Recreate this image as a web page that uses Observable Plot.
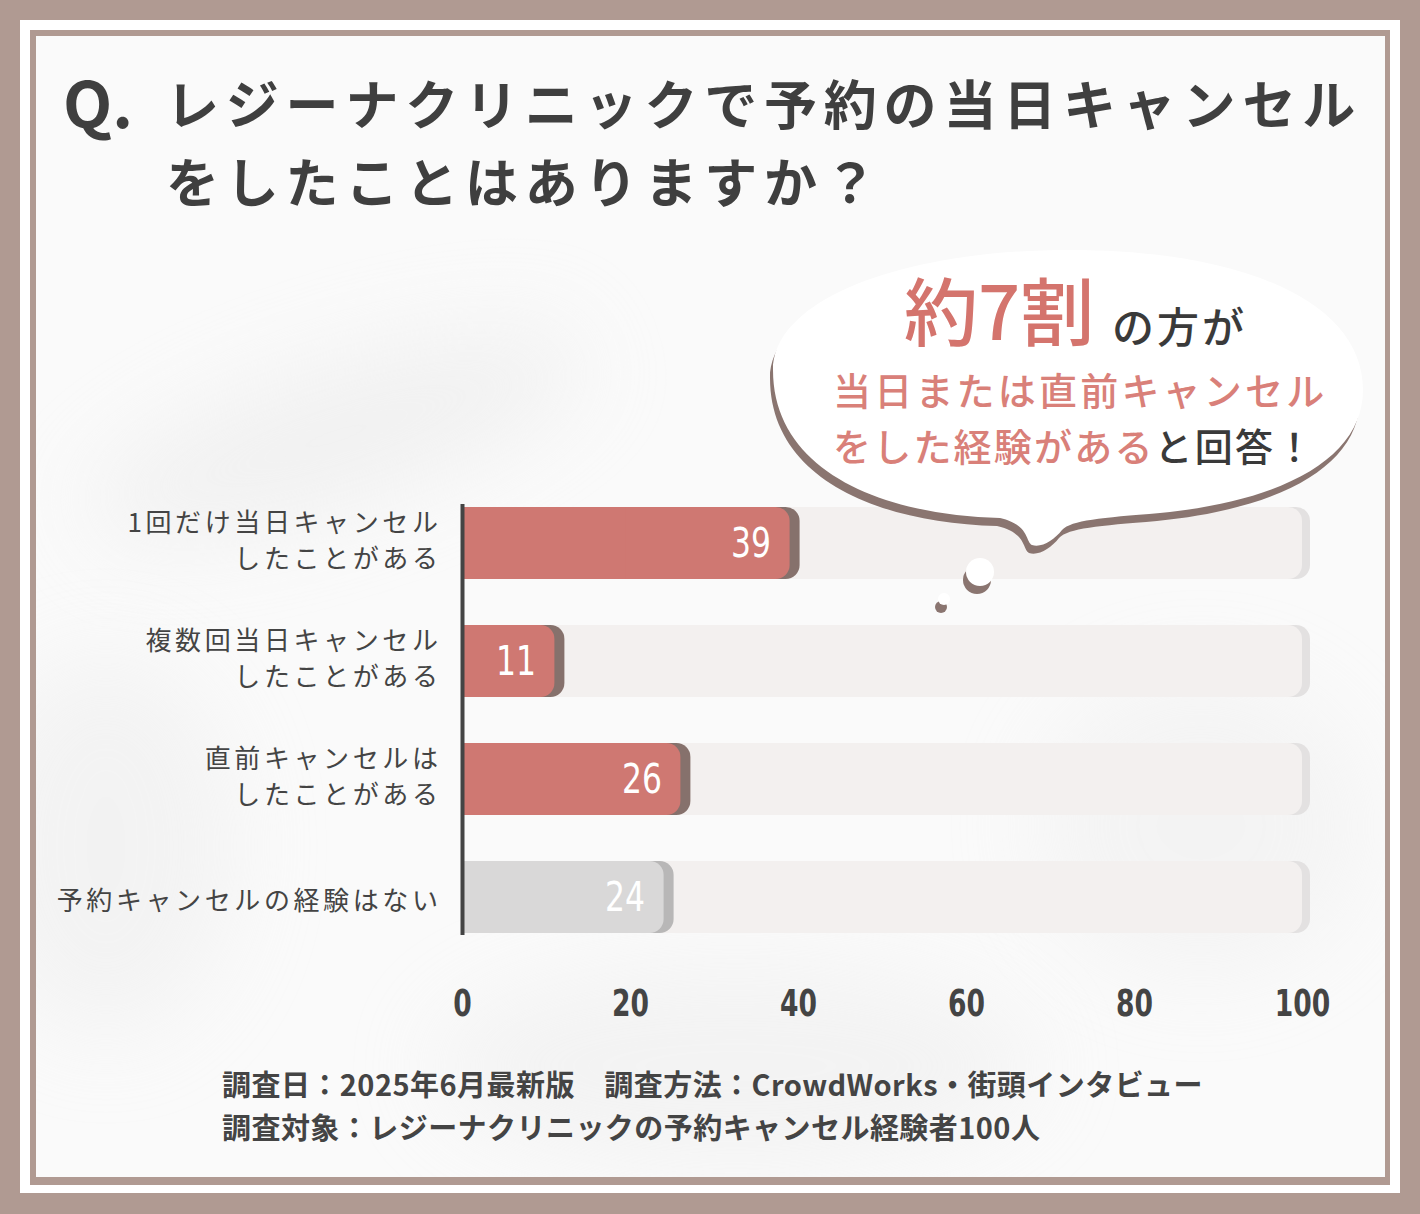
<!DOCTYPE html>
<html><head><meta charset="utf-8">
<script src="https://cdn.jsdelivr.net/npm/d3@7"></script>
<script src="https://cdn.jsdelivr.net/npm/@observablehq/plot@0.6"></script>
<style>
html,body{margin:0;padding:0;}
body{width:1420px;height:1214px;background:#b09a92;position:relative;overflow:hidden;font-family:"Noto Sans CJK JP","Noto Sans",sans-serif;}
#white{position:absolute;left:20px;top:20px;width:1380px;height:1173px;background:#fff;}
#line{position:absolute;left:30px;top:30px;width:1360px;height:1155px;background:#b09a92;}
#panel{position:absolute;left:36px;top:36px;width:1349px;height:1141px;background:#fafafa;overflow:hidden;}
.smudge{position:absolute;background:#e6e6e6;filter:blur(45px);opacity:.45;border-radius:50%;}
.abs{position:absolute;white-space:nowrap;line-height:1;}
#chart{position:absolute;left:0;top:0;}
#bubble{position:absolute;left:0;top:0;}
</style>
</head>
<body>
<div id="white"></div>
<div id="line"></div>
<div id="panel">
  <div class="smudge" style="left:40px;top:330px;width:520px;height:140px;transform:rotate(-18deg);"></div>
  <div class="smudge" style="left:-60px;top:620px;width:260px;height:380px;opacity:.35"></div>
  <div class="smudge" style="left:400px;top:930px;width:600px;height:200px;opacity:.35"></div>
  <div class="smudge" style="left:1000px;top:640px;width:330px;height:300px;opacity:.3"></div>
</div>
<div id="chart"></div>
<svg id="bubble" width="1420" height="1214" viewBox="0 0 1420 1214">
  <g transform="translate(-3,8)" fill="#8a7570">
    <path d="M773 370 C773 300 900 250 1070 250 C1240 250 1363 300 1363 390 C1363 455 1290 500 1160 513 C1100 518 1072 520 1062 530 C1054 540 1042 548 1032 545 C1025 541 1030 525 1000 518 C880 515 773 470 773 370 Z"/>
    <circle cx="980" cy="572" r="14"/>
    <circle cx="944" cy="599" r="6"/>
  </g>
  <g fill="#ffffff">
    <path d="M773 370 C773 300 900 250 1070 250 C1240 250 1363 300 1363 390 C1363 455 1290 500 1160 513 C1100 518 1072 520 1062 530 C1054 540 1042 548 1032 545 C1025 541 1030 525 1000 518 C880 515 773 470 773 370 Z"/>
    <circle cx="980" cy="572" r="14"/>
    <circle cx="944" cy="599" r="6"/>
  </g>
</svg>
<div class="abs" style="left:63px;top:68px;font-size:64px;font-weight:700;color:#3f3f3f;">Q.</div>
<div class="abs" style="left:166px;top:76px;font-size:53px;font-weight:700;color:#3f3f3f;letter-spacing:6.8px;">レジーナクリニックで予約の当日キャンセル</div>
<div class="abs" style="left:166px;top:154px;font-size:53px;font-weight:700;color:#3f3f3f;letter-spacing:6.8px;">をしたことはありますか？</div>
<div class="abs" style="left:904px;top:271px;font-size:74px;font-weight:500;color:#d4746d;">約7割</div>
<div class="abs" style="left:1112px;top:304px;font-size:42px;font-weight:500;color:#3a3a3a;letter-spacing:3px;">の方が</div>
<div class="abs" style="left:833px;top:370px;font-size:38px;font-weight:500;color:#d98079;letter-spacing:3.2px;">当日または直前キャンセル</div>
<div class="abs" style="left:833px;top:426px;font-size:38px;font-weight:500;color:#d98079;letter-spacing:2.2px;">をした経験がある<span style="color:#3a3a3a">と回答！</span></div>
<div class="abs" style="left:222px;top:1069px;font-size:29px;font-weight:700;color:#444;letter-spacing:0.45px;">調査日：2025年6月最新版　調査方法：CrowdWorks・街頭インタビュー</div>
<div class="abs" style="left:222px;top:1112px;font-size:29px;font-weight:700;color:#444;letter-spacing:0.45px;">調査対象：レジーナクリニックの予約キャンセル経験者100人</div>
<script>
const categories = [
  "1回だけ当日キャンセル\nしたことがある",
  "複数回当日キャンセル\nしたことがある",
  "直前キャンセルは\nしたことがある",
  "予約キャンセルの経験はない"
];
const values = [39, 11, 26, 24];
const xTicks = [0, 20, 40, 60, 80, 100];
const maxValue = 100;

const rows = categories.map((c, i) => ({cat: c, value: values[i], full: maxValue}));
const isNone = d => d.cat === categories[categories.length - 1];
const multi = rows.filter(d => d.cat.includes("\n"));
const single = rows.filter(d => !d.cat.includes("\n"));
const numFont = '"Liberation Sans Narrow","DejaVu Sans Condensed","Roboto",sans-serif';
const labelFont = '"Noto Sans CJK JP",sans-serif';

const chart = Plot.plot({
  width: 1420,
  height: 1214,
  marginLeft: 462,
  marginRight: 118,
  marginTop: 459,
  marginBottom: 233,
  style: {background: "transparent", overflow: "visible"},
  x: {domain: [0, maxValue], ticks: xTicks},
  y: {domain: categories, padding: 0.387, axis: null},
  marks: [
    Plot.barX(rows, {x1: 0, x2: "full", y: "cat", fill: "#e3e1e1", rx: 14, dx: 8}),
    Plot.barX(rows, {x1: 0, x2: "full", y: "cat", fill: "#f3f0ef", rx: 14}),
    Plot.barX(rows, {x1: 0, x2: "value", y: "cat", fill: d => isNone(d) ? "#b8b7b7" : "#86716c", rx: 14, dx: 10}),
    Plot.barX(rows, {x1: 0, x2: "value", y: "cat", fill: d => isNone(d) ? "#d9d8d8" : "#cf7872", rx: 14}),
    Plot.barX(rows, {x1: 0, x2: d => d.value / 2, y: "cat", fill: d => isNone(d) ? "#d9d8d8" : "#cf7872"}),
    Plot.ruleX([0], {stroke: "#444", strokeWidth: 4, insetTop: 45, insetBottom: 46}),
    Plot.text(multi, {x: 0, y: "cat", text: "cat", dx: -21, dy: -5, textAnchor: "end", fontSize: 26, fill: "#444", lineHeight: 1.36, fontFamily: labelFont}),
    Plot.text(single, {x: 0, y: "cat", text: "cat", dx: -21, dy: 4, textAnchor: "end", fontSize: 26, fill: "#444", fontFamily: labelFont}),
    Plot.text(rows, {x: "value", y: "cat", text: d => String(d.value), dx: -19, textAnchor: "end", fontSize: 41, fill: "#ffffff", fontFamily: numFont}),
    Plot.axisX({anchor: "bottom", ticks: xTicks, tickSize: 0, tickPadding: 8, fontSize: 38, fill: "#444", fontWeight: "bold", fontFamily: numFont, tickFormat: d => String(d)})
  ]
});
document.getElementById("chart").appendChild(chart);

// text mark groups in order: multi-line labels, single-line labels, values
const textGroups = d3.select(chart).selectAll('g[aria-label="text"]').nodes();
[textGroups[0], textGroups[1]].forEach(g => {
  if (g) d3.select(g).style("letter-spacing", "3.6px");
});
if (textGroups[2]) {
  d3.select(textGroups[2]).selectAll("text").each(function() {
    const t = this.textContent;
    d3.select(this).attr("textLength", t.length * 20).attr("lengthAdjust", "spacingAndGlyphs");
  });
}
d3.select(chart).selectAll('g[aria-label="x-axis tick label"] text').each(function() {
  const t = this.textContent;
  d3.select(this).attr("textLength", t.length * 18.5).attr("lengthAdjust", "spacingAndGlyphs");
});
</script>
</body></html>
